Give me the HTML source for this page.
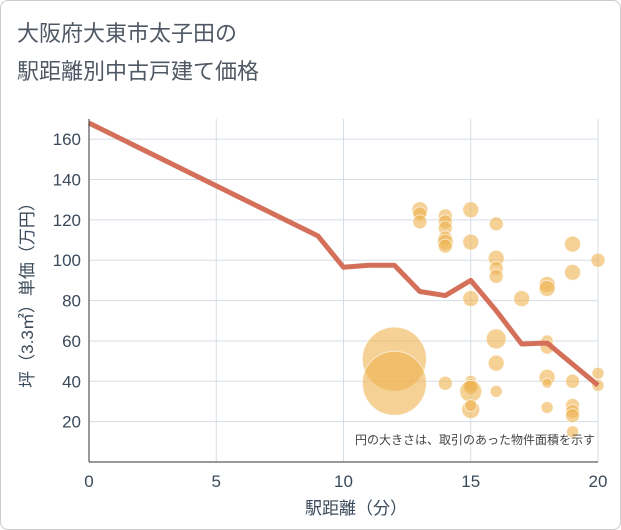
<!DOCTYPE html>
<html><head><meta charset="utf-8"><style>
body{margin:0;background:#fff;font-family:"Liberation Sans","Noto Sans CJK JP",sans-serif;}
#wrap{position:relative;width:619px;height:528px;border:1px solid #ccc;border-radius:8px;overflow:hidden;background:#fff}
</style></head><body>
<div id="wrap">
<svg id="chart" width="619" height="528">
<text x="16" y="40" font-size="22" fill="#4f5864">大阪府大東市太子田の</text>
<text x="16" y="78" font-size="22" fill="#4f5864">駅距離別中古戸建て価格</text>
<g id="grid"></g><g id="bubbles"></g><g id="line"></g><g id="axes"></g>
<text x="355" y="513" font-size="17" fill="#3a4a5a" text-anchor="middle">駅距離（分）</text>
<text transform="translate(32,290) rotate(-90)" font-size="17" fill="#3a4a5a" text-anchor="middle">坪（3.3㎡）単価（万円）</text>
<text x="594" y="443" font-size="12" fill="#444" text-anchor="end">円の大きさは、取引のあった物件面積を示す</text>
</svg></div>
<script>
const xTicks=[0,5,10,15,20];
const yTicks=[20,40,60,80,100,120,140,160];
const lineX=[0,9,10,11,12,13,14,15,16,17,18,20];
const lineY=[168,112,96.5,97.5,97.5,84.5,82.5,90,75,58.5,59,38];
const bubX=[13,13,13,14,14,14,14,14,14,12,12,14,15,15,15,15,15,15,15,15,15,16,16,16,16,16,16,16,17,18,18,18,18,18,18,18,19,19,19,19,19,19,19,20,20,20];
const bubY=[125,123,119,122,119,116,111,109,107,51,39,39,125,109,81,40,38,37,35,26,28,118,101,96,92,61,49,35,81,88,86,60,57,42,39,27,108,94,40,28,25,23,15,100,44,38];
const bubS=[8,7,7,7,7,7,7,8,7,32,32,7,8,8,8,6,7,7,11,9,6,7,8,7,7,10,8,6,8,8,8,6,7,8,5,6,8,8,7,7,7,7,6,7,6,6];
const L=88,R=597,T=118,B=461;
const xs=v=>L+(R-L)*v/20, ys=v=>B-(B-T)*v/170;
const NS="http://www.w3.org/2000/svg";
function mk(p,t,a){const e=document.createElementNS(NS,t);for(const k in a)e.setAttribute(k,a[k]);p.appendChild(e);return e;}
const g=document.getElementById('grid'),ax=document.getElementById('axes');
xTicks.forEach(v=>{
 const l=mk(g,'line',{x1:xs(v),x2:xs(v),y1:T,y2:B,stroke:'#d5dde6','stroke-width':1});
 
 
 const t=mk(ax,'text',{x:xs(v),y:B+25,'font-size':17,fill:'#3a4a5a','text-anchor':'middle'});t.textContent=v;
 
 
});
yTicks.forEach(v=>{
 const l=mk(g,'line',{x1:L,x2:R,y1:ys(v),y2:ys(v),stroke:'#d5dde6','stroke-width':1});
 
 
 const t=mk(ax,'text',{x:L-8,y:ys(v)+6,'font-size':17,fill:'#3a4a5a','text-anchor':'end'});t.textContent=v;
 
 
});
const xl=mk(ax,'line',{x1:L,x2:R,y1:B,y2:B,stroke:'#333','stroke-width':1});


const yl=mk(ax,'line',{x1:L,x2:L,y1:T,y2:B,stroke:'#333','stroke-width':1});


const bg=document.getElementById('bubbles');
bubX.forEach((x,i)=>{
 const c=mk(bg,'circle',{cx:xs(x),cy:ys(bubY[i]),r:bubS[i],fill:'#eeb350','fill-opacity':0.6,stroke:'#fff','stroke-opacity':0.6,'stroke-width':1});
 
 
});
const pts=lineX.map((x,i)=>xs(x)+','+ys(lineY[i])).join(' ');
const pl=mk(document.getElementById('line'),'polyline',{points:pts,fill:'none',stroke:'#d4705a','stroke-width':5,'stroke-linejoin':'round'});


</script>
</body></html>
